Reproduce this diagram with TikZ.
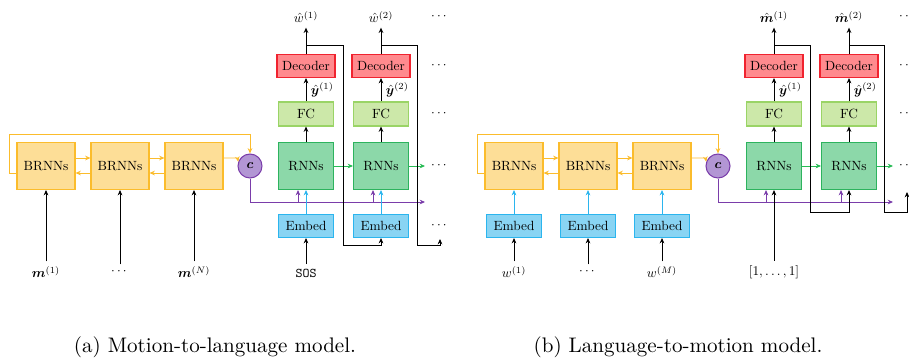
\documentclass[tikz,border=0pt]{standalone}
\usepackage{amsmath}
\usepackage{bm}
\usetikzlibrary{arrows.meta}

\definecolor{brnnfill}{HTML}{FDDE97}
\definecolor{brnnline}{HTML}{FBBC2C}
\definecolor{ctxfill}{HTML}{B296D4}
\definecolor{ctxline}{HTML}{7A3DAA}
\definecolor{rnnfill}{HTML}{8CD8A9}
\definecolor{rnnline}{HTML}{2DB35E}
\definecolor{fcfill}{HTML}{CCE8A9}
\definecolor{fcline}{HTML}{9AD466}
\definecolor{decfill}{HTML}{FF8A8E}
\definecolor{decline}{HTML}{F0232F}
\definecolor{embfill}{HTML}{89D4F3}
\definecolor{embline}{HTML}{2BB5EE}

\tikzset{
    brnnbox/.style={draw=brnnline, fill=brnnfill, line width=0.8pt, inner sep=0pt,
        minimum width=43.5pt, minimum height=35.25pt},
    rnnbox/.style={draw=rnnline, fill=rnnfill, line width=0.8pt, inner sep=0pt,
        minimum width=41.25pt, minimum height=35.25pt},
    fcbox/.style={draw=fcline, fill=fcfill, line width=0.8pt, inner sep=0pt,
        minimum width=41.25pt, minimum height=18pt},
    decbox/.style={draw=decline, fill=decfill, line width=0.8pt, inner sep=0pt,
        minimum width=43.5pt, minimum height=17.25pt},
    embbox/.style={draw=embline, fill=embfill, line width=0.8pt, inner sep=0pt,
        minimum width=41.25pt, minimum height=17.25pt},
    ctx/.style={circle, draw=ctxline, fill=ctxfill, line width=0.8pt, inner sep=0pt,
        minimum size=18pt},
    arr/.style={-{Stealth[length=4pt,width=3.5pt]}, line width=0.7pt},
    ylw/.style={arr, draw=brnnline},
    grn/.style={arr, draw=rnnline!90!green},
    blu/.style={arr, draw=embline},
    prp/.style={arr, draw=ctxline},
    capt/.style={anchor=base},
}

\begin{document}
\begin{tikzpicture}[x=0.75pt, y=-0.75pt]
    \useasboundingbox (0,0) rectangle (909,358);

    % (a) motion to language
    \node[brnnbox] (brnnA1) at (46,166) {BRNNs};
    \node[brnnbox] (brnnA2) at (120,166) {BRNNs};
    \node[brnnbox] (brnnA3) at (194,166) {BRNNs};
    \node[ctx] (cA) at (250,166) {$\bm c$};

    \node (mA1) at (46,272) {$\bm m^{(1)}$};
    \node (mA2) at (120,272) {$\cdots$};
    \node (mA3) at (194,272) {$\bm m^{(N)}$};

    \node[rnnbox] (rnnA1) at (306,166) {RNNs};
    \node[rnnbox] (rnnA2) at (381,166) {RNNs};
    \node[fcbox] (fcA1) at (306,114) {FC};
    \node[fcbox] (fcA2) at (381,114) {FC};
    \node[decbox] (decA1) at (306,66) {Decoder};
    \node[decbox] (decA2) at (381,66) {Decoder};
    \node[embbox] (embA1) at (306,226) {Embed};
    \node[embbox] (embA2) at (381,226) {Embed};
    \node (outA1) at (306,17) {$\hat{w}^{(1)}$};
    \node (outA2) at (381,17) {$\hat{w}^{(2)}$};
    \node (sosA) at (306,273) {\texttt{SOS}};

    \node (dotsA1) at (440,17) {$\cdots$};
    \node (dotsA2) at (440,66) {$\cdots$};
    \node (dotsA3) at (440,114) {$\cdots$};
    \node (dotsA4) at (440,166) {$\cdots$};
    \node (dotsA5) at (440,226) {$\cdots$};

    \coordinate (loopA) at (9,134);
    \coordinate (purpA) at (425,202);
    \coordinate (grnA) at (425,166);
    \coordinate (fbA1) at (343,245);
    \coordinate (fbA2) at (417,245);
    \coordinate (endA) at (440,239);

    \foreach \i in {1,2,3} {
        \draw[arr] (mA\i) -- (brnnA\i);
    }
    \draw[ylw] ([yshift=6pt]brnnA1.east) -- ([yshift=6pt]brnnA2.west);
    \draw[ylw] ([yshift=6pt]brnnA2.east) -- ([yshift=6pt]brnnA3.west);
    \draw[ylw] ([yshift=-5.25pt]brnnA2.west) -- ([yshift=-5.25pt]brnnA1.east);
    \draw[ylw] ([yshift=-5.25pt]brnnA3.west) -- ([yshift=-5.25pt]brnnA2.east);
    \draw[ylw] ([yshift=-5.25pt]brnnA1.west) -| (loopA) -| (cA.north);
    \draw[ylw] ([yshift=6pt]brnnA3.east) -- ++(14,0) -- (cA.160);

    \draw[prp] (cA.south) |- (purpA);
    \draw[prp] ([xshift=-6pt]rnnA1.south |- purpA) -- ([xshift=-6pt]rnnA1.south);
    \draw[prp] ([xshift=-6pt]rnnA2.south |- purpA) -- ([xshift=-6pt]rnnA2.south);
    \draw[blu] (embA1) -- (rnnA1);
    \draw[blu] (embA2) -- (rnnA2);
    \draw[grn] (rnnA1) -- (rnnA2);
    \draw[grn] (rnnA2) -- (grnA);

    \draw[arr] (sosA) -- (embA1);
    \draw[arr] (rnnA1) -- (fcA1);
    \draw[arr] (rnnA2) -- (fcA2);
    \draw[arr] (fcA1) -- node[right] {$\hat{\bm y}^{(1)}$} (decA1);
    \draw[arr] (fcA2) -- node[right] {$\hat{\bm y}^{(2)}$} (decA2);
    \draw[arr] (decA1) -- (outA1);
    \draw[arr] (decA2) -- (outA2);
    \draw[arr] ([yshift=6.75pt]decA1.north) -| (fbA1) -| (embA2.south);
    \draw[arr] ([yshift=6.75pt]decA2.north) -| (fbA2) -| (endA);

    \node[capt] (captA) at (215,352) {\scalebox{1.58}{(a) Motion-to-language model.}};

    % (b) language to motion
    \node[brnnbox] (brnnB1) at (514,166) {BRNNs};
    \node[brnnbox] (brnnB2) at (588,166) {BRNNs};
    \node[brnnbox] (brnnB3) at (662,166) {BRNNs};
    \node[ctx] (cB) at (718,166) {$\bm c$};

    \node[embbox] (embB1) at (514,226) {Embed};
    \node[embbox] (embB2) at (588,226) {Embed};
    \node[embbox] (embB3) at (662,226) {Embed};
    \node (wB1) at (514,272) {$w^{(1)}$};
    \node (wB2) at (588,272) {$\cdots$};
    \node (wB3) at (662,272) {$w^{(M)}$};

    \node[rnnbox] (rnnB1) at (774,166) {RNNs};
    \node[rnnbox] (rnnB2) at (849,166) {RNNs};
    \node[fcbox] (fcB1) at (774,114) {FC};
    \node[fcbox] (fcB2) at (849,114) {FC};
    \node[decbox] (decB1) at (774,66) {Decoder};
    \node[decbox] (decB2) at (849,66) {Decoder};
    \node (outB1) at (774,17) {$\hat{\bm m}^{(1)}$};
    \node (outB2) at (849,17) {$\hat{\bm m}^{(2)}$};
    \node (onesB) at (774,272) {$[1,\ldots,1]$};

    \node (dotsB1) at (908,17) {$\cdots$};
    \node (dotsB2) at (908,66) {$\cdots$};
    \node (dotsB3) at (908,114) {$\cdots$};
    \node (dotsB4) at (908,166) {$\cdots$};

    \coordinate (loopB) at (477,134);
    \coordinate (purpB) at (893,202);
    \coordinate (grnB) at (893,166);
    \coordinate (fbB1) at (810,212);
    \coordinate (fbB2) at (884,212);
    \coordinate (endB) at (907,192);

    \foreach \i in {1,2,3} {
        \draw[arr] (wB\i) -- (embB\i);
        \draw[blu] (embB\i) -- (brnnB\i);
    }
    \draw[ylw] ([yshift=6pt]brnnB1.east) -- ([yshift=6pt]brnnB2.west);
    \draw[ylw] ([yshift=6pt]brnnB2.east) -- ([yshift=6pt]brnnB3.west);
    \draw[ylw] ([yshift=-5.25pt]brnnB2.west) -- ([yshift=-5.25pt]brnnB1.east);
    \draw[ylw] ([yshift=-5.25pt]brnnB3.west) -- ([yshift=-5.25pt]brnnB2.east);
    \draw[ylw] ([yshift=-5.25pt]brnnB1.west) -| (loopB) -| (cB.north);
    \draw[ylw] ([yshift=6pt]brnnB3.east) -- ++(14,0) -- (cB.160);

    \draw[prp] (cB.south) |- (purpB);
    \draw[prp] ([xshift=-6pt]rnnB1.south |- purpB) -- ([xshift=-6pt]rnnB1.south);
    \draw[prp] ([xshift=-6pt]rnnB2.south |- purpB) -- ([xshift=-6pt]rnnB2.south);
    \draw[grn] (rnnB1) -- (rnnB2);
    \draw[grn] (rnnB2) -- (grnB);

    \draw[arr] (onesB) -- (rnnB1);
    \draw[arr] (rnnB1) -- (fcB1);
    \draw[arr] (rnnB2) -- (fcB2);
    \draw[arr] (fcB1) -- node[right] {$\hat{\bm y}^{(1)}$} (decB1);
    \draw[arr] (fcB2) -- node[right] {$\hat{\bm y}^{(2)}$} (decB2);
    \draw[arr] (decB1) -- (outB1);
    \draw[arr] (decB2) -- (outB2);
    \draw[arr] ([yshift=6.75pt]decB1.north) -| (fbB1) -| (rnnB2.south);
    \draw[arr] ([yshift=6.75pt]decB2.north) -| (fbB2) -| (endB);

    \node[capt] (captB) at (678,352) {\scalebox{1.58}{(b) Language-to-motion model.}};
\end{tikzpicture}
\end{document}
